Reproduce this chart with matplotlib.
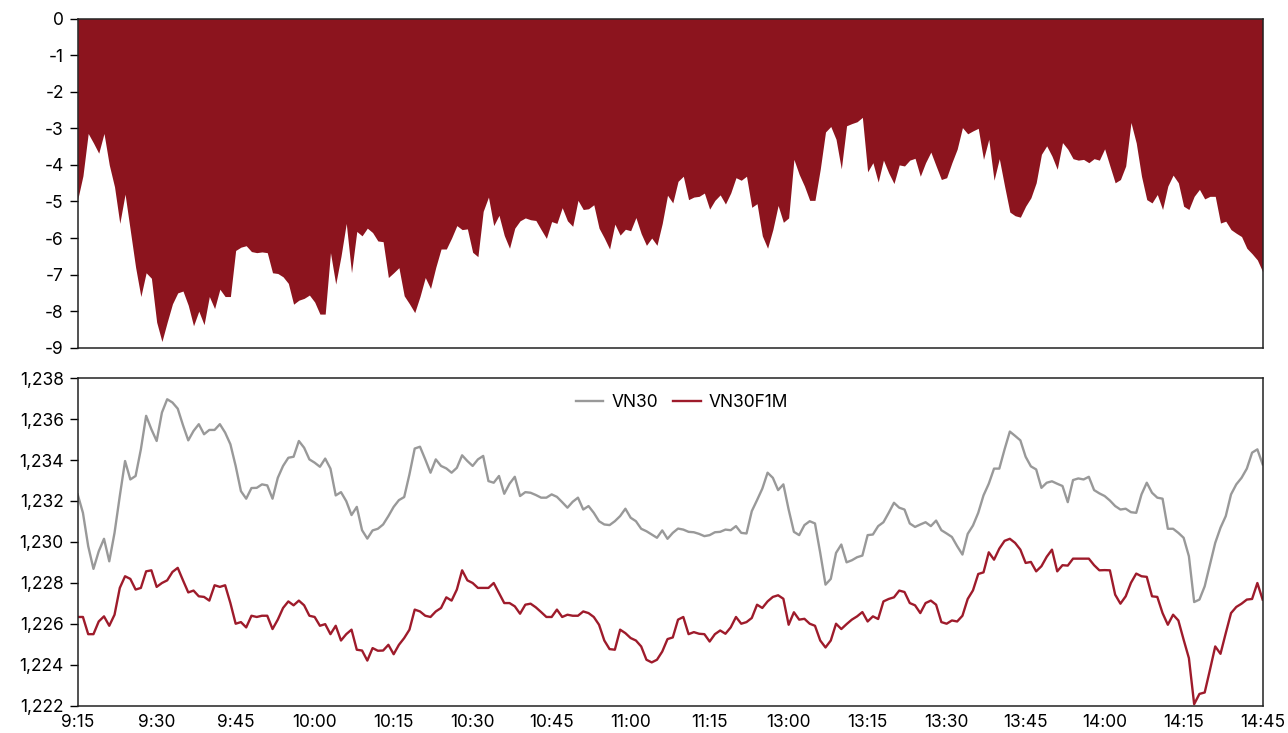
import matplotlib
matplotlib.use('Agg')
import matplotlib.pyplot as plt
from matplotlib.ticker import FuncFormatter, MultipleLocator

plt.rcParams['font.family'] = ['Inter', 'DejaVu Sans']
plt.rcParams['axes.unicode_minus'] = False

# minute labels: morning session 9:15-11:29, afternoon 13:00-14:29, then ATC 14:45
times = []
for h, m0, m1 in [(9, 15, 60), (10, 0, 60), (11, 0, 30), (13, 0, 60), (14, 0, 30)]:
    for m in range(m0, m1):
        times.append(f'{h}:{m:02d}')
times.append('14:45')

# basis (VN30F1M - VN30)
basis = [
    -4.95, -4.3, -3.14, -3.4, -3.68, -3.14, -4.0, -4.6, -5.6, -4.8,
    -5.8, -6.8, -7.6, -6.95, -7.1, -8.3, -8.83, -8.3, -7.8, -7.5,
    -7.45, -7.84, -8.4, -8.0, -8.37, -7.6, -7.93, -7.4, -7.6, -7.6,
    -6.34, -6.25, -6.21, -6.37, -6.4, -6.38, -6.4, -6.95, -6.97, -7.06,
    -7.24, -7.81, -7.7, -7.65, -7.56, -7.75, -8.08, -8.08, -6.4, -7.26,
    -6.5, -5.6, -6.95, -5.82, -5.94, -5.73, -5.85, -6.08, -6.1, -7.08,
    -6.95, -6.81, -7.58, -7.8, -8.04, -7.6, -7.08, -7.38, -6.8, -6.3,
    -6.3, -6.0, -5.66, -5.77, -5.75, -6.39, -6.51, -5.27, -4.88, -5.66,
    -5.38, -5.93, -6.28, -5.73, -5.53, -5.45, -5.5, -5.52, -5.77, -6.01,
    -5.55, -5.6, -5.17, -5.53, -5.68, -4.97, -5.22, -5.2, -5.09, -5.73,
    -6.0, -6.3, -5.62, -5.92, -5.76, -5.8, -5.44, -5.88, -6.2, -6.0,
    -6.2, -5.6, -4.83, -5.04, -4.45, -4.31, -4.95, -4.88, -4.86, -4.77,
    -5.21, -4.97, -4.82, -5.07, -4.77, -4.35, -4.42, -4.31, -5.16, -5.06,
    -5.94, -6.28, -5.77, -5.11, -5.57, -5.45, -3.85, -4.26, -4.58, -4.97,
    -4.97, -4.12, -3.1, -2.95, -3.3, -4.11, -2.93, -2.87, -2.82, -2.7,
    -4.19, -3.94, -4.47, -3.87, -4.22, -4.51, -4.0, -4.03, -3.87, -3.82,
    -4.31, -3.94, -3.65, -4.03, -4.4, -4.35, -3.94, -3.57, -2.98, -3.15,
    -3.07, -3.0, -3.85, -3.3, -4.42, -3.83, -4.58, -5.29, -5.39, -5.43,
    -5.13, -4.9, -4.49, -3.71, -3.48, -3.76, -4.12, -3.39, -3.57, -3.83,
    -3.87, -3.85, -3.94, -3.83, -3.87, -3.56, -4.03, -4.49, -4.4, -4.03,
    -2.84, -3.4, -4.31, -4.95, -5.04, -4.81, -5.22, -4.58, -4.28, -4.49,
    -5.13, -5.22, -4.86, -4.67, -4.93, -4.86, -4.86, -5.59, -5.54, -5.77,
    -5.87, -5.96, -6.28, -6.43, -6.6, -6.92,
]

vn30 = [
    1232.32, 1231.42, 1229.79, 1228.68, 1229.54, 1230.15, 1229.05, 1230.44, 1232.24, 1233.95,
    1233.05, 1233.22, 1234.52, 1236.16, 1235.5, 1234.93, 1236.32, 1236.97, 1236.81, 1236.51,
    1235.7, 1234.96, 1235.42, 1235.75, 1235.26, 1235.47, 1235.47, 1235.75, 1235.34, 1234.77,
    1233.71, 1232.48, 1232.11, 1232.63, 1232.64, 1232.81, 1232.76, 1232.11, 1233.13, 1233.71,
    1234.11, 1234.16, 1234.93, 1234.6, 1234.03, 1233.87, 1233.67, 1234.07, 1233.58, 1232.27,
    1232.43, 1231.99, 1231.31, 1231.71, 1230.57, 1230.16, 1230.56, 1230.64, 1230.85, 1231.26,
    1231.71, 1232.04, 1232.19, 1233.3, 1234.56, 1234.65, 1234.03, 1233.38, 1234.03, 1233.71,
    1233.59, 1233.38, 1233.62, 1234.23, 1233.95, 1233.71, 1234.03, 1234.2, 1232.97, 1232.89,
    1233.22, 1232.35, 1232.84, 1233.18, 1232.24, 1232.43, 1232.4, 1232.29, 1232.16, 1232.16,
    1232.32, 1232.2, 1231.94, 1231.67, 1231.96, 1232.16, 1231.58, 1231.75, 1231.42, 1231.01,
    1230.85, 1230.82, 1231.01, 1231.26, 1231.62, 1231.18, 1231.01, 1230.64, 1230.52, 1230.36,
    1230.2, 1230.56, 1230.15, 1230.44, 1230.65, 1230.6, 1230.49, 1230.47, 1230.39, 1230.28,
    1230.33, 1230.47, 1230.49, 1230.6, 1230.57, 1230.77, 1230.44, 1230.41, 1231.5, 1232.04,
    1232.6, 1233.38, 1233.13, 1232.53, 1232.81, 1231.58, 1230.49, 1230.33, 1230.82, 1231.01,
    1230.9, 1229.46, 1227.91, 1228.19, 1229.46, 1229.87, 1229.0, 1229.1, 1229.25, 1229.33,
    1230.33, 1230.36, 1230.77, 1230.96, 1231.42, 1231.91, 1231.67, 1231.58, 1230.9, 1230.73,
    1230.85, 1230.96, 1230.77, 1231.04, 1230.57, 1230.41, 1230.24, 1229.79, 1229.38, 1230.39,
    1230.8, 1231.42, 1232.27, 1232.84, 1233.58, 1233.58, 1234.52, 1235.39, 1235.18, 1234.96,
    1234.16, 1233.69, 1233.54, 1232.64, 1232.89, 1232.96, 1232.84, 1232.73, 1231.94, 1233.02,
    1233.1, 1233.05, 1233.18, 1232.53, 1232.37, 1232.24, 1232.02, 1231.75, 1231.58, 1231.62,
    1231.45, 1231.42, 1232.32, 1232.89, 1232.4, 1232.16, 1232.11, 1230.64, 1230.64, 1230.44,
    1230.2, 1229.3, 1227.06, 1227.18, 1227.83, 1228.89, 1229.95, 1230.69, 1231.26, 1232.32,
    1232.81, 1233.13, 1233.58, 1234.36, 1234.52, 1233.79,
]

vn30f1m = [
    1226.33, 1226.33, 1225.49, 1225.49, 1226.11, 1226.36, 1225.9, 1226.44, 1227.75, 1228.32,
    1228.19, 1227.67, 1227.75, 1228.56, 1228.61, 1227.8, 1227.99, 1228.12, 1228.53, 1228.73,
    1228.12, 1227.53, 1227.62, 1227.34, 1227.31, 1227.13, 1227.88, 1227.8, 1227.88, 1227.01,
    1226.0, 1226.08, 1225.82, 1226.39, 1226.33, 1226.39, 1226.39, 1225.74, 1226.2, 1226.77,
    1227.09, 1226.9, 1227.13, 1226.9, 1226.39, 1226.33, 1225.9, 1225.98, 1225.49, 1225.9,
    1225.18, 1225.49, 1225.71, 1224.73, 1224.69, 1224.2, 1224.81, 1224.68, 1224.69, 1224.97,
    1224.51, 1224.97, 1225.3, 1225.71, 1226.69, 1226.6, 1226.39, 1226.33, 1226.6, 1226.77,
    1227.29, 1227.13, 1227.67, 1228.61, 1228.12, 1227.99, 1227.75, 1227.75, 1227.75, 1227.99,
    1227.5, 1227.01, 1227.01, 1226.85, 1226.49, 1226.93, 1226.98, 1226.8, 1226.57, 1226.33,
    1226.33, 1226.69, 1226.33, 1226.44, 1226.39, 1226.39, 1226.6, 1226.52, 1226.33, 1225.95,
    1225.18, 1224.76, 1224.73, 1225.71, 1225.54, 1225.3, 1225.18, 1224.89, 1224.24, 1224.11,
    1224.24, 1224.64, 1225.25, 1225.33, 1226.2, 1226.33, 1225.49, 1225.59, 1225.51, 1225.49,
    1225.13, 1225.49, 1225.67, 1225.51, 1225.82, 1226.33, 1226.0, 1226.08, 1226.28, 1226.93,
    1226.77, 1227.09, 1227.31, 1227.39, 1227.22, 1225.95, 1226.56, 1226.2, 1226.24, 1226.0,
    1225.9, 1225.18, 1224.84, 1225.18, 1226.0, 1225.74, 1225.98, 1226.2, 1226.36, 1226.57,
    1226.11, 1226.36, 1226.23, 1227.09, 1227.21, 1227.29, 1227.62, 1227.55, 1227.01, 1226.9,
    1226.52, 1227.01, 1227.13, 1226.93, 1226.08, 1226.0, 1226.16, 1226.11, 1226.39, 1227.21,
    1227.63, 1228.43, 1228.51, 1229.49, 1229.13, 1229.67, 1230.05, 1230.15, 1229.95, 1229.62,
    1228.97, 1229.02, 1228.56, 1228.81, 1229.27, 1229.62, 1228.56, 1228.86, 1228.84, 1229.18,
    1229.18, 1229.18, 1229.18, 1228.86, 1228.61, 1228.62, 1228.61, 1227.42, 1226.98, 1227.34,
    1228.0, 1228.45, 1228.32, 1228.29, 1227.34, 1227.31, 1226.52, 1225.95, 1226.44, 1226.16,
    1225.22, 1224.32, 1222.07, 1222.57, 1222.64, 1223.75, 1224.89, 1224.53, 1225.54, 1226.52,
    1226.82, 1226.98, 1227.18, 1227.21, 1227.99, 1227.18,
]

x = list(range(len(times)))
tick_idx = x[::15]
tick_lbl = [times[i] for i in tick_idx]

fill_color = '#8C141E'
red = '#9E1B2B'
grey = '#999999'

fig = plt.figure(figsize=(12.88, 7.33), dpi=100)
ax1 = fig.add_axes([0.0603, 0.5256, 0.9200, 0.4490])
ax2 = fig.add_axes([0.0603, 0.0374, 0.9200, 0.4467])

# top: basis area
ax1.fill_between(x, basis, 0, color=fill_color, linewidth=0)
ax1.set_xlim(0, len(times) - 1)
ax1.set_ylim(-9, 0)
ax1.yaxis.set_major_locator(MultipleLocator(1))
ax1.set_xticks([])

# bottom: index vs futures
ax2.plot(x, vn30, color=grey, lw=1.7, label='VN30')
ax2.plot(x, vn30f1m, color=red, lw=1.7, label='VN30F1M')
ax2.set_xlim(0, len(times) - 1)
ax2.set_ylim(1222, 1238)
ax2.yaxis.set_major_locator(MultipleLocator(2))
ax2.yaxis.set_major_formatter(FuncFormatter(lambda v, p: f'{v:,.0f}'))
ax2.set_xticks(tick_idx)
ax2.set_xticklabels(tick_lbl)
ax2.tick_params(axis='x', length=0, pad=6)
ax2.legend(loc='upper center', bbox_to_anchor=(0.51, 1.0), ncol=2, frameon=False,
           fontsize=12.5, handlelength=1.6, columnspacing=0.9, handletextpad=0.45)

for ax in (ax1, ax2):
    for s in ax.spines.values():
        s.set_color('#222222')
        s.set_linewidth(1.1)
    ax.tick_params(axis='y', length=6, width=1, labelsize=12.5, pad=4)
    ax.tick_params(axis='x', labelsize=12.5)

plt.savefig('out.png', dpi=100, facecolor='white')
plt.close()
